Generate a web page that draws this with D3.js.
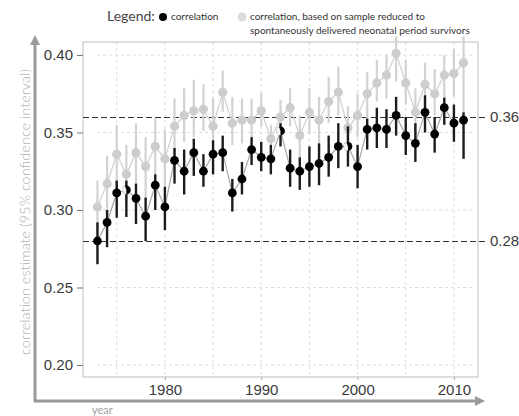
<!DOCTYPE html>
<html>
<head>
<meta charset="utf-8">
<script src="https://cdn.jsdelivr.net/npm/d3@7/dist/d3.min.js"></script>
<style>
  html, body { margin: 0; padding: 0; background: #fff; }
  svg { display: block; }
</style>
</head>
<body>
<svg id="chart" width="519" height="416"></svg>
<script>
// Birth years
const years = d3.range(1973, 2012);

// Correlation estimate (all births) with 95% CI
const corr    = [0.280,0.292,0.311,0.313,0.3075,0.296,0.316,0.302,0.332,0.325,0.337,0.325,0.336,0.337,0.311,0.320,0.339,0.334,0.333,0.351,0.327,0.325,0.328,0.330,0.334,0.341,0.341,0.328,0.352,0.353,0.352,0.361,0.348,0.343,0.363,0.349,0.366,0.356,0.358];
const corrLo  = [0.265,0.276,0.295,0.2955,0.291,0.280,0.300,0.287,0.317,0.310,0.322,0.315,0.323,0.325,0.299,0.310,0.329,0.325,0.323,0.341,0.315,0.313,0.315,0.316,0.3215,0.327,0.328,0.314,0.339,0.340,0.340,0.348,0.3355,0.331,0.350,0.337,0.355,0.344,0.333];
const corrHi  = [0.292,0.300,0.319,0.319,0.317,0.308,0.323,0.315,0.340,0.339,0.346,0.336,0.345,0.348,0.320,0.331,0.347,0.344,0.342,0.356,0.339,0.334,0.341,0.343,0.348,0.356,0.354,0.342,0.359,0.366,0.365,0.373,0.360,0.356,0.374,0.360,0.3725,0.368,0.363];

// Correlation estimate, sample reduced to spontaneously delivered neonatal period survivors
const reduced   = [0.302,0.317,0.336,0.323,0.337,0.328,0.341,0.333,0.354,0.361,0.364,0.365,0.354,0.376,0.356,0.358,0.358,0.364,0.346,0.360,0.366,0.348,0.363,0.358,0.370,0.376,0.353,0.361,0.375,0.382,0.387,0.401,0.382,0.363,0.381,0.375,0.387,0.388,0.395];
const reducedLo = [0.285,0.296,0.313,0.304,0.315,0.306,0.321,0.315,0.335,0.344,0.347,0.351,0.334,0.3634,0.342,0.343,0.342,0.3538,0.334,0.347,0.354,0.334,0.349,0.341,0.356,0.361,0.341,0.347,0.359,0.370,0.372,0.383,0.368,0.348,0.366,0.361,0.372,0.373,0.360];
const reducedHi = [0.319,0.335,0.355,0.342,0.356,0.347,0.359,0.352,0.372,0.3785,0.384,0.381,0.372,0.390,0.373,0.372,0.372,0.3753,0.355,0.371,0.3785,0.361,0.3785,0.373,0.386,0.3925,0.367,0.375,0.389,0.397,0.400,0.412,0.397,0.3785,0.395,0.391,0.400,0.404,0.412];

// Years whose marker is drawn with a light left half
const splitMarkerYears = [1976, 1992, 1999];

// Axis ticks and reference levels
const yTicks = [0.20, 0.25, 0.30, 0.35, 0.40];
const xTicks = [1980, 1990, 2000, 2010];
const xGrid  = [1975, 1980, 1985, 1990, 1995, 2000, 2005, 2010];
const refLevels = [0.36, 0.28];

const yTitle = "correlation estimate (95% confidence interval)";
const xTitle = "year";
const legendTitle = "Legend:";
const legendMain = "correlation";
const legendReduced = ["correlation, based on sample reduced to",
                       "spontaneously delivered neonatal period survivors"];

const svg = d3.select("#chart");

const panel = { left: 83, right: 478, top: 42, bottom: 377 };
const x = d3.scaleLinear().domain([1971.5, 2012.5]).range([panel.left, panel.right]);
const y = d3.scaleLinear().domain([0.20, 0.40]).range([365, 55]);

const sans = "'Liberation Sans', Arial, sans-serif";
const soft = "Lato, 'Open Sans', sans-serif";

// Grid
const grid = svg.append("g");
grid.selectAll("line.gy").data(yTicks).join("line")
  .attr("x1", 97).attr("x2", 472)
  .attr("y1", d => y(d)).attr("y2", d => y(d))
  .attr("stroke", "#dcdcdc").attr("stroke-width", 1).attr("stroke-dasharray", "3,3");
grid.selectAll("line.gx").data(xGrid).join("line")
  .attr("x1", d => x(d)).attr("x2", d => x(d))
  .attr("y1", panel.top).attr("y2", panel.bottom)
  .attr("stroke", "#dcdcdc").attr("stroke-width", 1).attr("stroke-dasharray", "3,3");

// Panel border
svg.append("rect")
  .attr("x", panel.left).attr("y", panel.top)
  .attr("width", panel.right - panel.left).attr("height", panel.bottom - panel.top)
  .attr("fill", "none").attr("stroke", "#bdbdbd").attr("stroke-width", 1);

// Y axis ticks
const yAxis = svg.append("g").attr("transform", `translate(${panel.left},0)`)
  .call(d3.axisLeft(y).tickValues(yTicks).tickFormat(d3.format(".2f")).tickSize(6).tickPadding(4));
yAxis.select(".domain").remove();
yAxis.selectAll(".tick line").attr("stroke", "#777");
yAxis.selectAll(".tick text").attr("font-family", sans).attr("font-size", 15).attr("fill", "#3a3a3a");

// X axis ticks
const xAxis = svg.append("g").attr("transform", `translate(0,${panel.bottom})`)
  .call(d3.axisBottom(x).tickValues(xTicks).tickFormat(d3.format("d")).tickSize(3).tickPadding(4));
xAxis.select(".domain").remove();
xAxis.selectAll(".tick line").attr("stroke", "#aaa");
xAxis.selectAll(".tick text").attr("font-family", sans).attr("font-size", 15).attr("fill", "#3a3a3a");

// Reference levels
const refs = svg.append("g");
refs.selectAll("line").data(refLevels).join("line")
  .attr("x1", panel.left).attr("x2", 486)
  .attr("y1", d => y(d) + 0.5).attr("y2", d => y(d) + 0.5)
  .attr("stroke", "#333").attr("stroke-width", 1.2).attr("stroke-dasharray", "6,3")
  .attr("shape-rendering", "crispEdges");
refs.selectAll("text").data(refLevels).join("text")
  .attr("x", 490).attr("y", d => y(d)).attr("dy", "0.36em")
  .attr("font-family", sans).attr("font-size", 15).attr("fill", "#3a3a3a")
  .text(d => d3.format(".2f")(d));

// Series helper
function drawSeries(vals, lo, hi, opt) {
  const g = svg.append("g");
  const line = d3.line().x((d, i) => x(years[i])).y(d => y(d));
  g.append("path").datum(vals).attr("d", line)
    .attr("fill", "none").attr("stroke", opt.lineColor).attr("stroke-width", 1.2);
  g.selectAll("line.ci").data(vals).join("line")
    .attr("x1", (d, i) => x(years[i])).attr("x2", (d, i) => x(years[i]))
    .attr("y1", (d, i) => y(lo[i])).attr("y2", (d, i) => y(hi[i]))
    .attr("stroke", opt.barColor).attr("stroke-width", opt.barWidth);
  g.selectAll("circle").data(vals).join("circle")
    .attr("cx", (d, i) => x(years[i])).attr("cy", d => y(d))
    .attr("r", opt.r).attr("fill", opt.dotColor);
  return g;
}

drawSeries(reduced, reducedLo, reducedHi,
  { lineColor: "#cfcfcf", barColor: "#d2d2d2", barWidth: 2.2, dotColor: "#cdcdcd", r: 4.6 });
const mainG = drawSeries(corr, corrLo, corrHi,
  { lineColor: "#a8a8a8", barColor: "#1c1c1c", barWidth: 2.4, dotColor: "#000", r: 4.4 });

// Split markers
mainG.selectAll("path.split").data(splitMarkerYears).join("path")
  .attr("transform", d => `translate(${x(d)},${y(corr[years.indexOf(d)])})`)
  .attr("d", d3.arc()({ innerRadius: 0, outerRadius: 4.4, startAngle: Math.PI, endAngle: 2 * Math.PI - 0.35 }))
  .attr("fill", "#f2f2f2");

// Arrowed frame axes
const arrowColor = "#9a9a9a";
svg.append("line").attr("x1", 35).attr("x2", 35).attr("y1", 402).attr("y2", 44)
  .attr("stroke", arrowColor).attr("stroke-width", 3);
svg.append("path").attr("d", "M30,45 L35,35 L40,45 Z").attr("fill", arrowColor);
svg.append("line").attr("x1", 34).attr("x2", 476).attr("y1", 401).attr("y2", 401)
  .attr("stroke", arrowColor).attr("stroke-width", 3);
svg.append("path").attr("d", "M475,396 L485,401 L475,406 Z").attr("fill", arrowColor);

// Axis titles
svg.append("text")
  .attr("transform", "translate(30,212) rotate(-90)")
  .attr("text-anchor", "middle")
  .attr("font-family", soft).attr("font-size", 14.5).attr("font-weight", 300).attr("fill", "#b0b0b0")
  .text(yTitle);
svg.append("text")
  .attr("x", 92).attr("y", 414)
  .attr("font-family", soft).attr("font-size", 11).attr("fill", "#a0a0a0")
  .text(xTitle);

// Legend
const leg = svg.append("g");
leg.append("text").attr("x", 107).attr("y", 21)
  .attr("font-family", soft).attr("font-size", 14).attr("fill", "#444").text(legendTitle);
leg.append("circle").attr("cx", 163).attr("cy", 17).attr("r", 4).attr("fill", "#000");
leg.append("text").attr("x", 171).attr("y", 20)
  .attr("font-family", soft).attr("font-size", 10).attr("fill", "#333").text(legendMain);
leg.append("circle").attr("cx", 242).attr("cy", 17).attr("r", 4.5).attr("fill", "#dcdcdc");
leg.selectAll("text.lr").data(legendReduced).join("text")
  .attr("x", 250).attr("y", (d, i) => 20 + i * 14)
  .attr("font-family", soft).attr("font-size", 10).attr("fill", "#333")
  .text(d => d);
</script>
</body>
</html>
